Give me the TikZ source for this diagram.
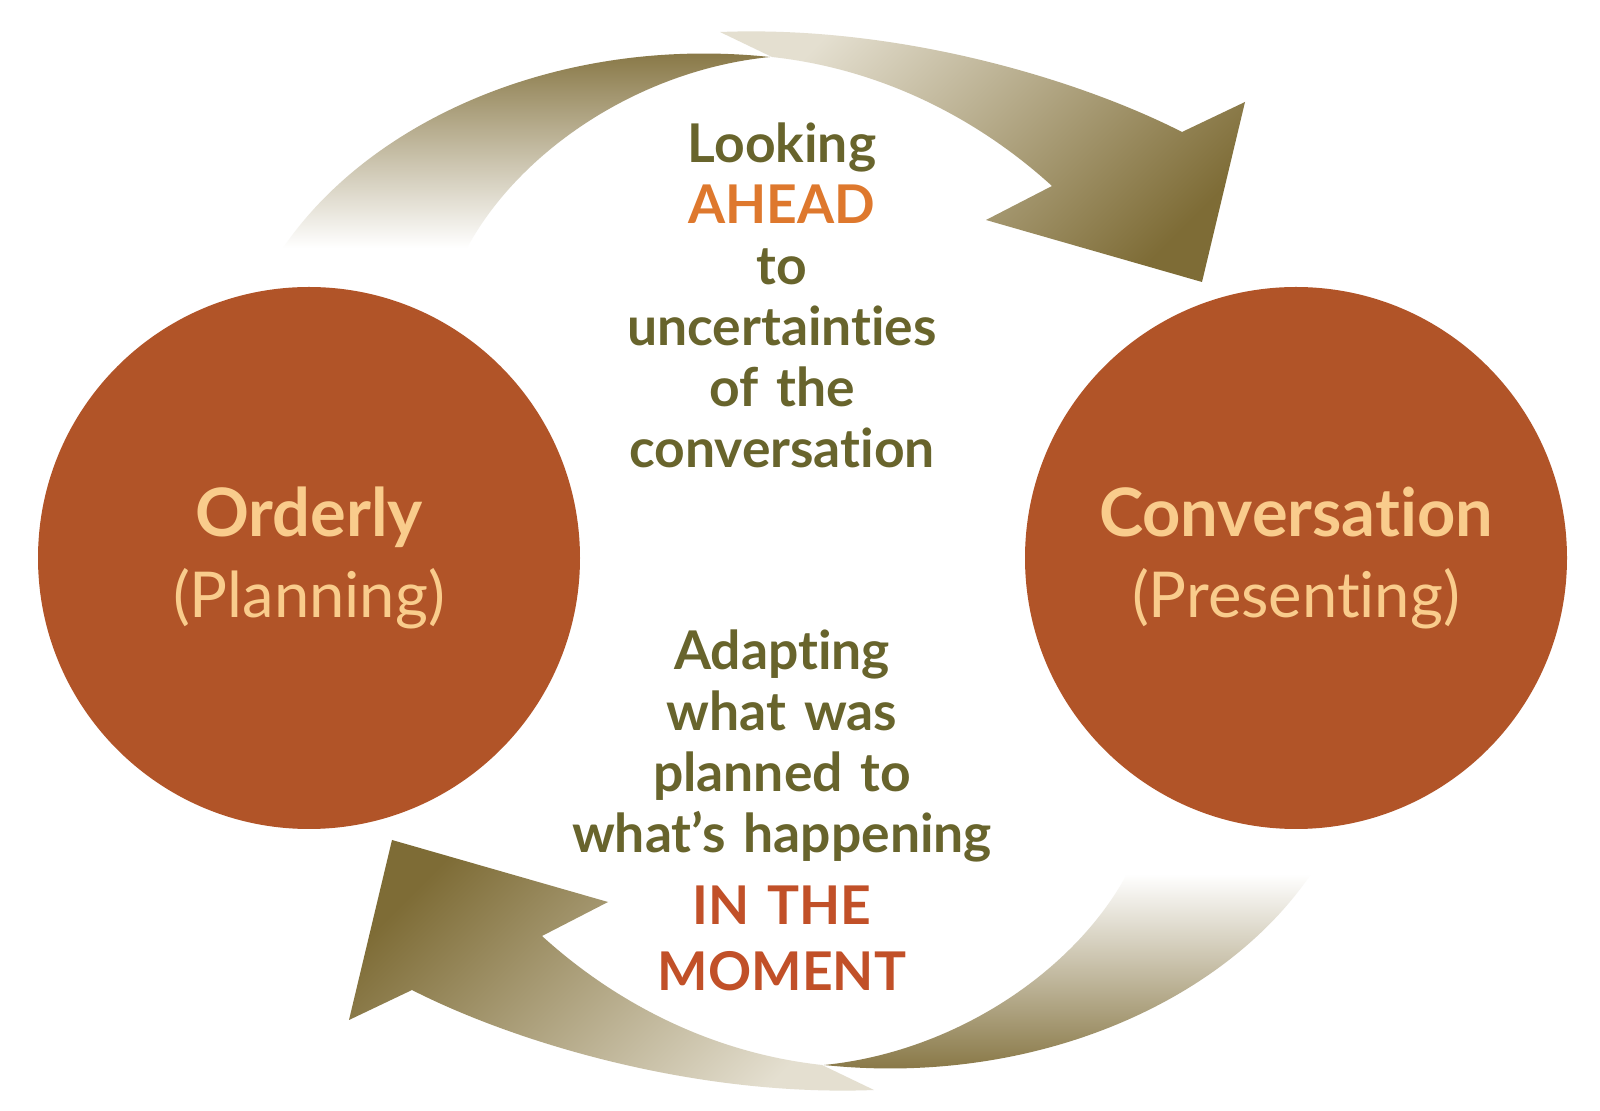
\documentclass[tikz,border=0pt]{standalone}
\usepackage{fontspec}
\setmainfont[Ligatures=NoCommon]{Lato}
\usepackage{tikz}
\usetikzlibrary{positioning,shapes}
\definecolor{rouille}{RGB}{177,84,40}
\definecolor{peche}{RGB}{249,204,140}
\definecolor{texteolive}{RGB}{104,100,44}
\definecolor{orangeahead}{RGB}{222,120,45}
\definecolor{rougemoment}{RGB}{193,80,40}
\definecolor{flechefonce}{RGB}{126,108,54}
\definecolor{flecheclair}{RGB}{228,223,208}
\tikzset{rond/.style={circle,fill=rouille,minimum size=54.2mm,inner sep=0pt,text=peche,align=center,
           font=\fontsize{19}{23}\selectfont},
         bloc/.style={text width=60mm,align=center,anchor=base,text=texteolive,
           font=\fontsize{15.2}{17.35}\selectfont\bfseries}}

\begin{document}
\begin{tikzpicture}[x=0.1mm,y=-0.1mm]
\fill[white](0,0)rectangle(1600,1111);
% flèche du haut
\shade[top color=flecheclair,bottom color=flechefonce,shading angle=45]
  (720,32)..controls(900,25)and(1080,80)..(1182,132)--(1245,102)--(1202,282)--(986,220)--(1052,186)
  ..controls(985,125)and(890,70)..(772,57)--cycle;
\shade[top color=flechefonce,bottom color=white]
  (283,248)..controls(370,120)and(560,35)..(770,57)..controls(640,70)and(520,150)..(467,248)--cycle;
% flèche du bas
\shade[top color=flechefonce,bottom color=flecheclair,shading angle=45]
  (874,1090)..controls(694,1097)and(514,1042)..(412,990)--(349,1020)--(392,840)--(608,902)--(542,936)
  ..controls(609,997)and(704,1052)..(822,1065)--cycle;
\shade[top color=white,bottom color=flechefonce]
  (1311,874)..controls(1224,1002)and(1034,1087)..(824,1065)..controls(954,1052)and(1074,972)..(1127,874)--cycle;
% les deux cercles
\node[rond](orderly)at(309,558){\textbf{Orderly}\\{\fontsize{18}{23}\selectfont(Planning)}};
\node[rond](conversation)at(1296,558){\textbf{Conversation}\\{\fontsize{18}{23}\selectfont(Presenting)}};
% textes du milieu
\node[bloc](ahead)at(782,163){Looking\\\textcolor{orangeahead}{AHEAD}\\to\\uncertainties\\of the\\conversation};
\node[bloc](moment)at(782,670){Adapting\\what was\\planned to\\what’s happening\\[3pt]
  \textcolor{rougemoment}{IN THE}\\[1.5pt]\textcolor{rougemoment}{MOMENT}};
\end{tikzpicture}
\end{document}
